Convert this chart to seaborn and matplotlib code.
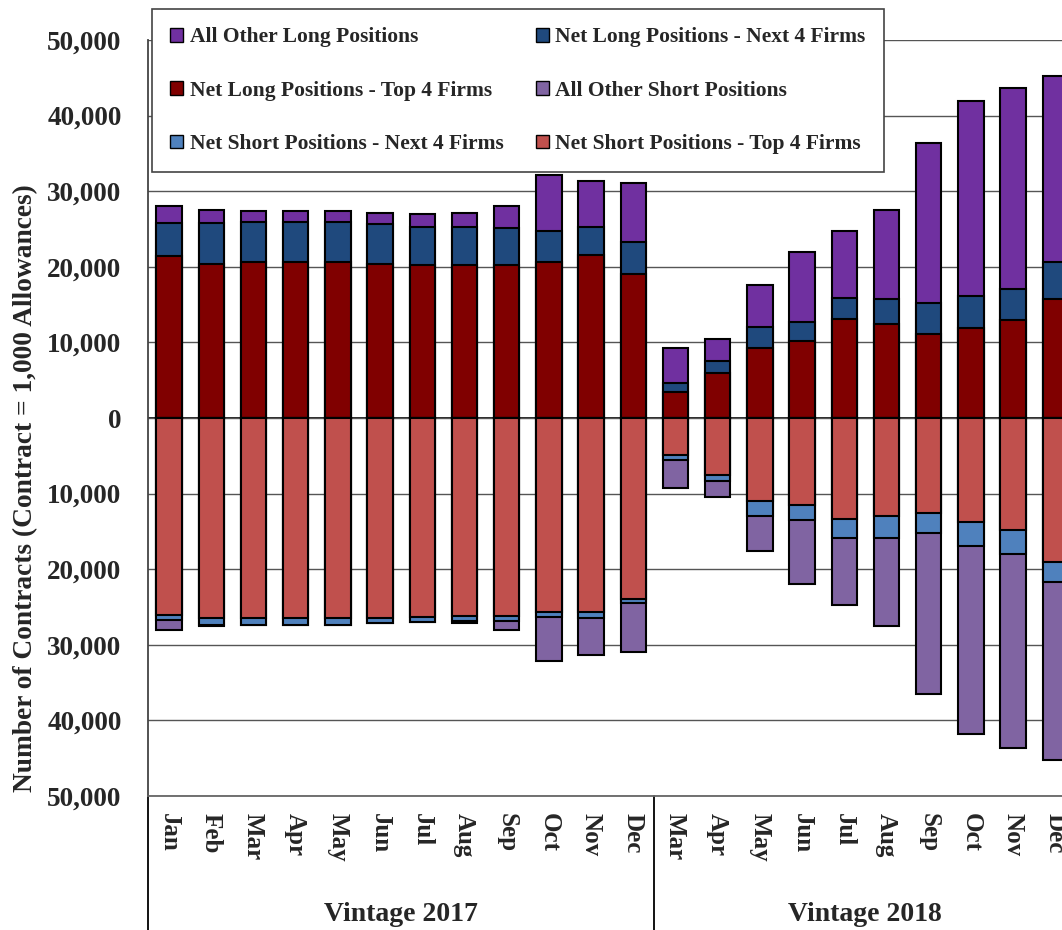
import pandas as pd
import seaborn as sns
import matplotlib.pyplot as plt
from matplotlib.patches import Patch
from matplotlib.transforms import blended_transform_factory

# months per vintage
months_2017 = ["Jan", "Feb", "Mar", "Apr", "May", "Jun", "Jul", "Aug", "Sep", "Oct", "Nov", "Dec"]
months_2018 = ["Mar", "Apr", "May", "Jun", "Jul", "Aug", "Sep", "Oct", "Nov", "Dec"]

# long side (contracts)
long_top4 = [21400, 20400, 20600, 20600, 20600, 20400, 20200, 20200, 20200, 20600, 21500, 19000,
             3400, 5900, 9200, 10200, 13100, 12400, 11100, 11850, 12950, 15800]
long_next4 = [4400, 5400, 5300, 5300, 5300, 5200, 5100, 5000, 4900, 4200, 3700, 4300,
              1200, 1600, 2800, 2500, 2750, 3400, 4100, 4250, 4150, 4800]
long_other = [2200, 1700, 1500, 1500, 1500, 1500, 1700, 1900, 3000, 7400, 6100, 7800,
              4600, 3000, 5600, 9300, 8850, 11650, 21200, 25800, 26500, 24600]

# short side (contracts)
short_top4 = [26000, 26500, 26500, 26500, 26500, 26500, 26300, 26200, 26200, 25700, 25600, 24000,
              4900, 7500, 11000, 11500, 13350, 13000, 12600, 13700, 14850, 19000]
short_next4 = [700, 900, 900, 900, 900, 600, 700, 600, 600, 600, 900, 500,
               600, 850, 1900, 2000, 2500, 2850, 2650, 3200, 3150, 2750]
short_other = [1300, 100, 0, 0, 0, 0, 0, 300, 1300, 5900, 4900, 6500,
               3700, 2100, 4700, 8500, 8850, 11650, 21250, 24950, 25650, 23450]

labels = ["All Other Long Positions", "Net Long Positions - Top 4 Firms",
          "Net Short Positions - Next 4 Firms", "Net Long Positions - Next 4 Firms",
          "All Other Short Positions", "Net Short Positions - Top 4 Firms"]
colors = ["#7030A0", "#800000", "#4F81BD", "#1F497D", "#8064A2", "#C0504D"]

sns.set_style("white")
plt.rcParams["font.family"] = ["Liberation Serif", "DejaVu Serif"]
plt.rcParams["font.weight"] = "bold"

keys = [f"2017-{m}" for m in months_2017] + [f"2018-{m}" for m in months_2018]
df = pd.DataFrame({"key": keys})
df["l1"] = long_top4
df["l2"] = df["l1"] + long_next4
df["l3"] = df["l2"] + long_other
df["s1"] = [-v for v in short_top4]
df["s2"] = df["s1"] - short_next4
df["s3"] = df["s2"] - short_other

fig = plt.figure(figsize=(10.62, 9.3), dpi=100)
ax = fig.add_axes([148 / 1062, 134 / 930, (1062 - 148) / 1062, 756 / 930])

# stack by overdrawing cumulative totals
layers = [("l3", "#7030A0"), ("l2", "#1F497D"), ("l1", "#800000"),
          ("s3", "#8064A2"), ("s2", "#4F81BD"), ("s1", "#C0504D")]
for col, c in layers:
    sns.barplot(data=df, x="key", y=col, order=keys, color=c, saturation=1,
                width=0.6, edgecolor="black", linewidth=1.5, errorbar=None, ax=ax)

ax.set_ylim(-50000, 50000)
ax.set_xlim(-0.5, 21.16)
yt = list(range(-50000, 50001, 10000))
ax.set_yticks(yt)
ax.set_yticklabels([f"{abs(v):,}" for v in yt], fontsize=19.5)
ax.yaxis.grid(True, color="#555555", linewidth=1)
ax.set_axisbelow(True)
ax.axhline(0, color="black", linewidth=1.2, zorder=0.5)
ax.tick_params(axis="y", direction="out", length=8, color="#444444", pad=11)

ax.set_xticks(range(len(keys)))
ax.set_xticklabels(months_2017 + months_2018, rotation=-90, fontsize=18)
ax.tick_params(axis="x", length=0, pad=12)
ax.set_xlabel("")
ax.set_ylabel("Number of Contracts (Contract = 1,000 Allowances)", fontsize=19.7,
              fontweight="bold")
ax.yaxis.set_label_coords(-0.12, 0.407)

for side in ["top", "right"]:
    ax.spines[side].set_visible(False)
ax.spines["left"].set_color("#444444")
ax.spines["bottom"].set_color("#666666")
ax.spines["left"].set_linewidth(1.3)
ax.spines["bottom"].set_linewidth(1.3)

# group labels and separators below the axis
tr = blended_transform_factory(ax.transData, ax.transAxes)
for xs in [-0.5, 11.5]:
    ax.plot([xs, xs], [0, -0.18], transform=tr, color="black", lw=1.3, clip_on=False)
ax.text(5.5, -0.157, "Vintage 2017", transform=tr, ha="center", va="center", fontsize=20)
ax.text(16.5, -0.157, "Vintage 2018", transform=tr, ha="center", va="center", fontsize=20)

handles = [Patch(facecolor=c, edgecolor="black", linewidth=1) for c in colors]
leg = fig.legend(handles, labels, ncol=2, loc="upper left",
                 bbox_to_anchor=(152 / 1062, 0.75, 732 / 1062, (930 - 9) / 930 - 0.75),
                 mode="expand", borderaxespad=0, fontsize=15.5, frameon=True, fancybox=False,
                 framealpha=1, handlelength=0.6, handleheight=0.6, handletextpad=0.3,
                 labelspacing=1.55, borderpad=0.85, columnspacing=1.0)
leg.get_frame().set_edgecolor("#444444")
leg.get_frame().set_linewidth(1.2)

fig.savefig("out.png", dpi=100)
